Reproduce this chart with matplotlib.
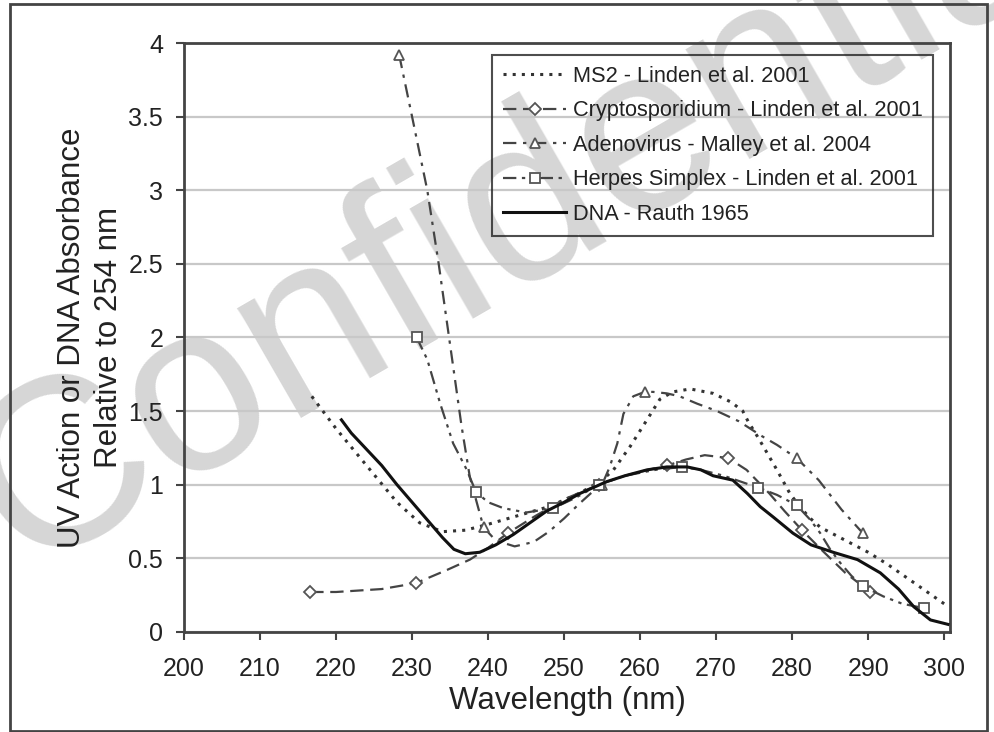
import matplotlib
matplotlib.use("Agg")
import matplotlib.pyplot as plt
from matplotlib.patches import Rectangle

plt.rcParams['font.family'] = ['Liberation Sans', 'DejaVu Sans']

# Traced spectra (wavelength nm, value relative to 254 nm)
ms2_x = [216.8, 220, 224, 228, 231, 234, 237, 240, 244, 248, 252, 255, 256.5, 258.7,
         260.9, 262.6, 264.3, 266.6, 269.6, 272, 273.5, 274.2, 275.4, 276.2, 278, 279.7,
         281, 282.4, 283.7, 286.3, 290, 292.5, 295, 297.5, 300]
ms2_y = [1.60, 1.38, 1.13, 0.88, 0.74, 0.68, 0.69, 0.73, 0.79, 0.85, 0.94, 1.03, 1.10, 1.26,
         1.44, 1.58, 1.63, 1.65, 1.62, 1.56, 1.50, 1.43, 1.33, 1.26, 1.10, 0.94,
         0.85, 0.77, 0.71, 0.64, 0.54, 0.46, 0.37, 0.28, 0.19]

crypto_x = [216.6, 220, 223, 226, 230.5, 234.6, 237.6, 240, 242.6, 246, 250, 254.6, 258,
            261, 263.6, 266, 268.5, 271.6, 274, 277, 279, 281.3, 284, 287, 290.3]
crypto_y = [0.27, 0.27, 0.28, 0.29, 0.33, 0.42, 0.49, 0.57, 0.67, 0.78, 0.90, 1.00, 1.06,
            1.10, 1.13, 1.17, 1.20, 1.18, 1.10, 0.94, 0.82, 0.69, 0.55, 0.40, 0.27]
crypto_marks = [216.6, 230.5, 242.6, 254.6, 263.6, 271.6, 281.3, 290.3]

adeno_x = [228.3, 230, 232, 233.5, 235, 236.5, 237.6, 239.4, 241, 243.5, 246, 248, 250,
           252, 253.5, 255, 256, 257, 257.8, 259.1, 260.6, 261.7, 263.5, 265.2, 267.5,
           270.1, 273, 276, 278, 280.6, 283.5, 286.5, 289.3]
adeno_y = [3.92, 3.50, 3.00, 2.50, 1.95, 1.40, 1.05, 0.71, 0.62, 0.58, 0.61, 0.68, 0.77,
           0.87, 0.94, 1.00, 1.12, 1.28, 1.48, 1.60, 1.63, 1.63, 1.62, 1.60, 1.55,
           1.50, 1.43, 1.33, 1.27, 1.18, 1.03, 0.83, 0.67]
adeno_marks = [228.3, 239.4, 255, 260.6, 280.6, 289.3]

herpes_x = [230.6, 232, 233.7, 235.4, 237.2, 238.4, 240, 242, 245, 248.6, 251.5, 254.6,
            258, 262, 265.5, 268, 271, 275.5, 278, 280.6, 282.4, 283.7, 285, 286.3,
            287.8, 289.3, 292, 294.5, 297.4]
herpes_y = [2.00, 1.85, 1.55, 1.28, 1.10, 0.95, 0.88, 0.84, 0.81, 0.84, 0.91, 1.00,
            1.06, 1.10, 1.12, 1.10, 1.06, 0.98, 0.93, 0.86, 0.76, 0.67, 0.56, 0.47,
            0.38, 0.31, 0.24, 0.19, 0.16]
herpes_marks = [230.6, 238.4, 248.6, 254.6, 265.5, 275.5, 280.6, 289.3, 297.4]

dna_x = [220.7, 222, 224, 226, 228, 230, 232, 234, 235.5, 237, 238.9, 241, 243.3, 245.5,
         247.7, 250, 252.1, 255.6, 258, 260.9, 263.5, 266.2, 268, 269.6, 272.2, 274.1,
         275.8, 277.5, 280.1, 282.5, 285.4, 288.6, 291.6, 294, 296, 298.2, 300.5]
dna_y = [1.44, 1.35, 1.24, 1.13, 1.00, 0.88, 0.76, 0.64, 0.56, 0.53, 0.54, 0.59, 0.66, 0.74,
         0.82, 0.88, 0.94, 1.02, 1.06, 1.10, 1.12, 1.12, 1.10, 1.06, 1.03, 0.94,
         0.85, 0.78, 0.67, 0.59, 0.54, 0.49, 0.40, 0.29, 0.17, 0.08, 0.05]

labels = ['MS2 - Linden et al. 2001',
          'Cryptosporidium - Linden et al. 2001',
          'Adenovirus - Malley et al. 2004',
          'Herpes Simplex - Linden et al. 2001',
          'DNA - Rauth 1965']


def mark_idx(xs, marks):
    return [i for i, x in enumerate(xs) if x in marks]


fig = plt.figure(figsize=(9.95, 7.32), dpi=100)
ax = fig.add_axes([0.185, 0.137, 0.770, 0.804])
ax.patch.set_visible(False)

mk = dict(mfc='white', mec='#555555', mew=1.3, ms=7.5)

ax.plot(ms2_x, ms2_y, color='#333333', lw=2.2, linestyle=(0, (1, 2)),
        label=labels[0], zorder=3)
ax.plot(crypto_x, crypto_y, color='#444444', lw=1.6, linestyle=(0, (6, 3)),
        marker='D', markevery=mark_idx(crypto_x, crypto_marks),
        label=labels[1], zorder=3, **dict(mk, ms=6.5))
ax.plot(adeno_x, adeno_y, color='#444444', lw=1.6, linestyle=(0, (6, 3, 1.5, 3)),
        marker='^', markevery=mark_idx(adeno_x, adeno_marks),
        label=labels[2], zorder=3, **mk)
ax.plot(herpes_x, herpes_y, color='#444444', lw=1.6,
        linestyle=(0, (6, 2.5, 1.5, 2.5, 1.5, 2.5)),
        marker='s', markevery=mark_idx(herpes_x, herpes_marks),
        label=labels[3], zorder=3, **mk)
ax.plot(dna_x, dna_y, color='#111111', lw=2.2, label=labels[4], zorder=4)

ax.set_xlim(200, 300.8)
ax.set_ylim(0, 4)
ax.set_xticks(range(200, 301, 10))
ax.set_yticks([0, 0.5, 1, 1.5, 2, 2.5, 3, 3.5, 4])
ax.set_yticklabels(['0', '0.5', '1', '1.5', '2', '2.5', '3', '3.5', '4'])
ax.yaxis.grid(True, color='#c8c8c8', lw=1.6)

for sp in ax.spines.values():
    sp.set_color('#444444')
    sp.set_linewidth(2)
ax.tick_params(axis='both', direction='out', length=6, width=1.5, color='#444444',
               labelsize=18, labelcolor='#222222')
ax.tick_params(axis='x', pad=12)
ax.tick_params(axis='y', pad=9)

ax.set_xlabel('Wavelength (nm)', fontsize=22.5, color='#222222', labelpad=4)
ax.set_ylabel('UV Action or DNA Absorbance\nRelative to 254 nm', fontsize=22.5,
              color='#222222', labelpad=3, linespacing=1.3)

# legend box is see-through so the watermark shows behind it
leg = ax.legend(loc='upper right', bbox_to_anchor=(0.978, 0.98), borderaxespad=0,
                fontsize=15.7, frameon=True, fancybox=False, facecolor='none',
                edgecolor='#222222', handlelength=2.9, labelspacing=0.62,
                handletextpad=0.3, borderpad=0.5)
leg.get_frame().set_linewidth(1.5)
for t in leg.get_texts():
    t.set_color('#222222')

# watermark, drawn underneath the axes
fig.text(0.540, 0.722, 'Confidential', fontsize=172, color='#d6d6d6', rotation=30,
         ha='center', va='center', rotation_mode='anchor', zorder=-1)

# outer frame
fig.patches.append(Rectangle((0.010, 0.002), 0.982, 0.993, transform=fig.transFigure,
                             fill=False, edgecolor='#444444', lw=2))

fig.savefig('out.png', dpi=100)
